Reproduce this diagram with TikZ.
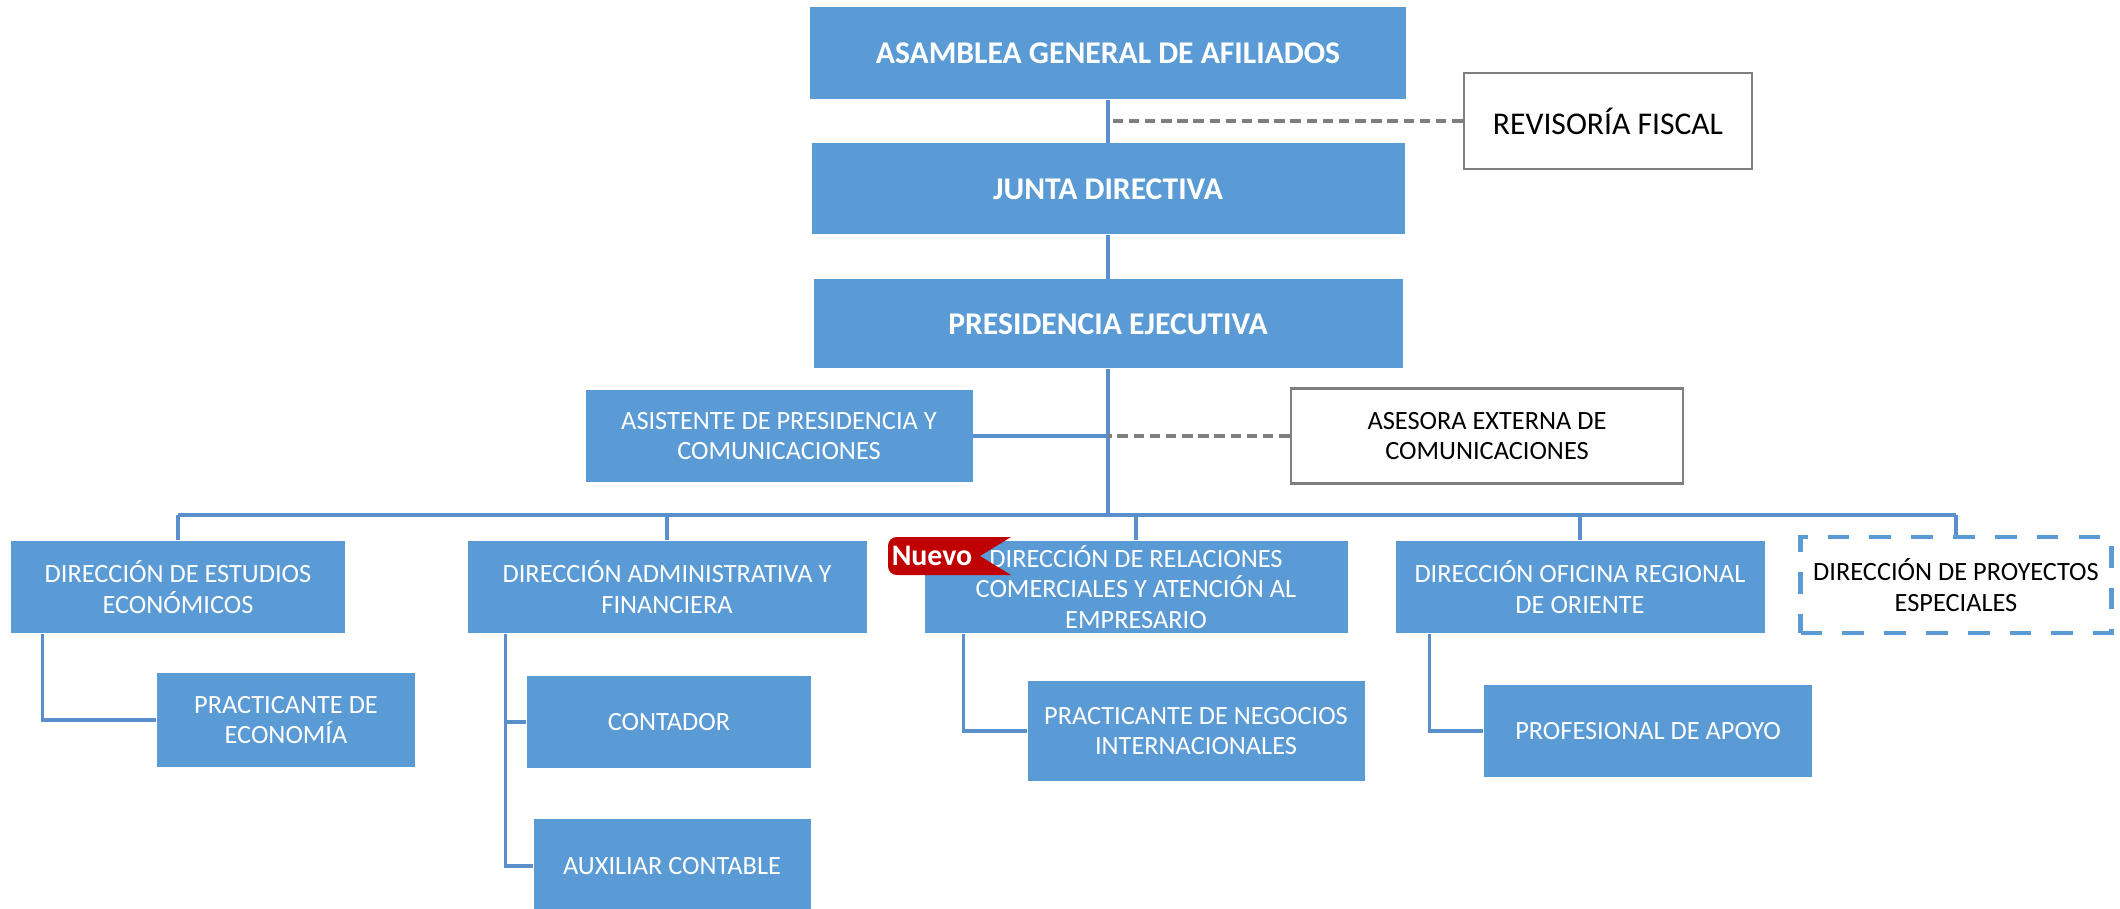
\documentclass[tikz,border=0pt]{standalone}
\usepackage{fontspec}
\setmainfont{Carlito}
\definecolor{orgblue}{HTML}{5B9BD5}
\definecolor{lineblue}{HTML}{5A8FCB}
\definecolor{framegray}{HTML}{7F7F7F}
\definecolor{nuevored}{HTML}{C00000}
\tikzset{
  unit/.style={fill=orgblue, text=white, inner sep=0pt, align=center,
    font=\fontsize{7.5}{8.6}\selectfont},
  head/.style={unit, font=\bfseries\fontsize{9}{11}\selectfont},
  extern/.style={draw=framegray, line width=0.8pt, fill=white, text=black,
    inner sep=0pt, align=center, font=\fontsize{7.5}{8.6}\selectfont},
  special/.style={draw=orgblue, line width=1.4pt, dash pattern=on 6.2pt off 5.7pt,
    fill=white, text=black, inner sep=0pt, align=center,
    font=\fontsize{7.5}{8.6}\selectfont},
  link/.style={draw=lineblue, line width=0.9pt},
  advice/.style={draw=framegray, line width=0.9pt, dash pattern=on 3pt off 1.6pt},
}
\begin{document}
\begin{tikzpicture}[x=0.1mm, y=-0.1mm]
\useasboundingbox (0,0) rectangle (2120,909);
% top of the chart
\node[head, minimum width=59.6mm, minimum height=9.2mm] (asamblea) at (1108,53) {ASAMBLEA GENERAL DE AFILIADOS};
\node[extern, minimum width=28.8mm, minimum height=9.6mm, font=\fontsize{9}{11}\selectfont] (revisoria) at (1608,121) {REVISORÍA FISCAL};
\node[head, minimum width=59.3mm, minimum height=9.1mm] (junta) at (1108,189) {JUNTA DIRECTIVA};
\node[head, minimum width=58.9mm, minimum height=8.9mm] (presidencia) at (1108,324) {PRESIDENCIA EJECUTIVA};
\node[unit, minimum width=38.7mm, minimum height=9.2mm] (asistente) at (779,436) {ASISTENTE DE PRESIDENCIA Y\\COMUNICACIONES};
\node[extern, minimum width=39.2mm, minimum height=9.5mm] (asesora) at (1487,436) {ASESORA EXTERNA DE\\COMUNICACIONES};
\coordinate (bus) at (1108,515);
% directions
\node[unit, minimum width=33.4mm, minimum height=9.2mm] (estudios) at (178,587) {DIRECCIÓN DE ESTUDIOS\\ECONÓMICOS};
\node[unit, minimum width=39.9mm, minimum height=9.2mm] (administrativa) at (667,587) {DIRECCIÓN ADMINISTRATIVA Y\\FINANCIERA};
\node[unit, minimum width=42.3mm, minimum height=9.2mm] (relaciones) at (1136,587) {DIRECCIÓN DE RELACIONES\\COMERCIALES Y ATENCIÓN AL\\EMPRESARIO};
\node[unit, minimum width=36.9mm, minimum height=9.2mm] (oficina) at (1580,587) {DIRECCIÓN OFICINA REGIONAL\\DE ORIENTE};
\node[special, minimum width=31.1mm, minimum height=9.6mm] (proyectos) at (1956,585) {DIRECCIÓN DE PROYECTOS\\ESPECIALES};
% staff
\node[unit, minimum width=25.8mm, minimum height=9.4mm] (practeco) at (286,720) {PRACTICANTE DE\\ECONOMÍA};
\node[unit, minimum width=28.4mm, minimum height=9.2mm] (contador) at (669,722) {CONTADOR};
\node[unit, minimum width=27.7mm, minimum height=9.5mm] (auxiliar) at (672,866) {AUXILIAR CONTABLE};
\node[unit, minimum width=33.7mm, minimum height=10mm] (practneg) at (1196,731) {PRACTICANTE DE NEGOCIOS\\INTERNACIONALES};
\node[unit, minimum width=32.8mm, minimum height=9.2mm] (profesional) at (1648,731) {PROFESIONAL DE APOYO};
% connectors
\draw[link] (asamblea) -- (junta);
\draw[link] (junta) -- (presidencia);
\draw[advice] (revisoria.west) -- (revisoria.west -| asamblea.south);
\draw[link] (presidencia.south) -- (bus);
\draw[link] (asistente.east) -- (asistente.east -| presidencia.south);
\draw[advice] (asesora.west) -- (asesora.west -| presidencia.south);
\draw[link] (estudios.north |- bus) -- (proyectos.north |- bus);
\foreach \dir in {estudios,administrativa,relaciones,oficina,proyectos}
  \draw[link] (\dir.north) -- (\dir.north |- bus);
\draw[link] ([xshift=3.2mm]estudios.south west) |- (practeco.west);
\coordinate (admtrunk) at ([xshift=3.9mm]administrativa.south west);
\draw[link] (admtrunk) |- (auxiliar.west);
\draw[link] (contador.west) -- (contador.west -| admtrunk);
\draw[link] ([xshift=4mm]relaciones.south west) |- (practneg.west);
\draw[link] ([xshift=3.5mm]oficina.south west) |- (profesional.west);
% new tag
\fill[nuevored, rounded corners=2.5pt] (1011,575) -- (888,575) -- (888,537) [sharp corners] -- (1011,537) -- (980,556) -- cycle;
\node[text=white, font=\bfseries\fontsize{8.5}{10}\selectfont, inner sep=0pt] (nuevo) at (932,556) {Nuevo};
\end{tikzpicture}
\end{document}
